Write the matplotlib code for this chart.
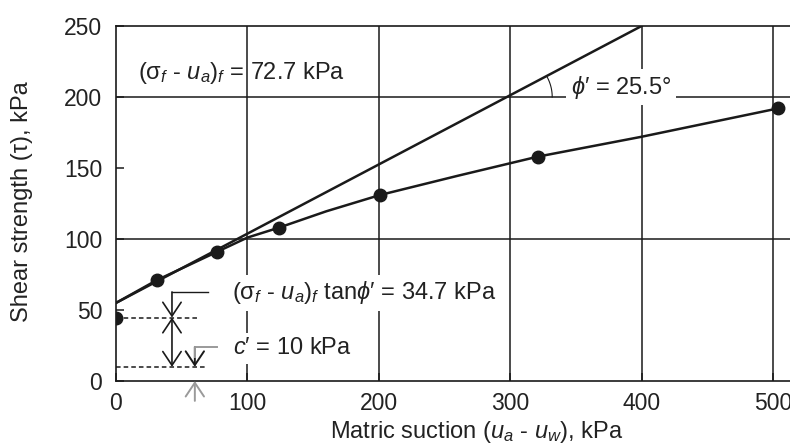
import numpy as np
import matplotlib
matplotlib.use("Agg")
import matplotlib.pyplot as plt

## data ##
suction = [0, 31, 77, 124, 201, 321, 504]
tau = [44.5, 71, 91, 108, 131, 158, 192]

# fitted curve through the measurements (hand-read)
curve_x = [0, 31, 77, 100, 124, 160, 201, 260, 321, 400, 504]
curve_y = [55, 71, 91, 101, 108, 119.5, 131, 144.5, 158, 172, 192]

# straight envelope, slope phi'
line_x = [0, 400]
line_y = [55, 250]

c_prime = 10
tan_term = 34.7

xticks = [0, 100, 200, 300, 400, 500]
yticks = [0, 50, 100, 150, 200, 250]
xgrid = [100, 200, 300, 400, 500]
ygrid = [100, 200]

## style ##
plt.rcParams['font.family'] = ['Liberation Sans', 'DejaVu Sans']
plt.rcParams['mathtext.fontset'] = 'custom'
plt.rcParams['mathtext.rm'] = 'Liberation Sans'
plt.rcParams['mathtext.it'] = 'Liberation Sans:italic'
plt.rcParams['mathtext.sf'] = 'Liberation Sans'
ink = '#1a1a1a'
txt = '#222222'

W, H = 790, 445
fig = plt.figure(figsize=(W / 100, H / 100), dpi=100)
ax = fig.add_axes([116 / W, 1 - 381 / H, 674 / W, 355 / H])
xmax = 674 / 1.314
ax.set_xlim(0, xmax)
ax.set_ylim(0, 250)

for s in ['left', 'bottom', 'top']:
    ax.spines[s].set_color(ink)
    ax.spines[s].set_linewidth(1.2)
ax.spines['right'].set_visible(False)

# grid
for gx in xgrid:
    ax.axvline(gx, color=ink, lw=1.1, zorder=1)
for gy in ygrid:
    ax.axhline(gy, color=ink, lw=1.1, zorder=1)

ax.set_xticks(xticks)
ax.set_yticks(yticks)
ax.tick_params(direction='in', length=6, width=1.1, color=ink, labelsize=16.5,
               labelcolor=txt)
ax.tick_params(axis='y', pad=10)
ax.tick_params(axis='x', pad=8)

# envelope + curve + points
ax.plot(line_x, line_y, color=ink, lw=1.8, zorder=3)
ax.plot(curve_x, curve_y, color=ink, lw=1.8, zorder=3)
ax.plot(suction, tau, 'o', color=ink, ms=9, zorder=4)

# angle arc at (300, 200)
sx = 674 / xmax
sy = 355 / 250
ang = np.arctan((line_y[1] - line_y[0]) / (line_x[1] - line_x[0]) * sy / sx)
t = np.linspace(0, ang, 40)
r = 42
ax.plot(300 + r / sx * np.cos(t), 200 + r / sy * np.sin(t), color=ink, lw=0.8, zorder=3)

fs = 17
box = dict(boxstyle='square,pad=0.2', fc='white', ec='none')
ax.text(16.7, 217, r'(σ$_{f}$ - $u_{a}$)$_{f}$ = 72.7 kPa', fontsize=fs, color=txt,
        ha='left', va='center', zorder=5)
ax.text(346, 207, r'$\phi$′ = 25.5°', fontsize=fs, color=txt,
        ha='left', va='center', bbox=box, zorder=5)
ax.text(88, 62, r'(σ$_{f}$ - $u_{a}$)$_{f}$ tan$\phi$′ = 34.7 kPa', fontsize=fs,
        color=txt, ha='left', va='center', bbox=box, zorder=5)
ax.text(89, 23, r'$c$′ = 10 kPa', fontsize=fs, color=txt,
        ha='left', va='center', bbox=box, zorder=5)

# dimension lines
top = c_prime + tan_term
ax.plot([0, 62], [top, top], ls=(0, (3, 2)), color=ink, lw=1.1, zorder=3)
ax.plot([0, 69], [c_prime, c_prime], ls=(0, (3, 2)), color=ink, lw=1.1, zorder=3)

ax.plot([70, 42.6], [62.7, 62.7], color=ink, lw=1.0, zorder=3)
head = ',head_length=0.45,head_width=0.3'
arw = dict(arrowstyle='->' + head, color=ink, lw=1.2,
           shrinkA=0, shrinkB=0, mutation_scale=22)
ax.annotate('', xy=(42.6, top), xytext=(42.6, 62.7), arrowprops=arw)
ax.annotate('', xy=(42.6, c_prime), xytext=(42.6, top),
            arrowprops=dict(arw, arrowstyle='<->' + head))

grey = '#9a9a9a'
ax.plot([77, 60], [24, 24], color=grey, lw=1.4, zorder=3)
garw = dict(arw, color=grey, lw=1.4)
ax.annotate('', xy=(60, c_prime), xytext=(60, 24), arrowprops=dict(garw, color=ink))
ax.plot([60, 60], [24, 17], color=grey, lw=1.4, zorder=3)
ax.annotate('', xy=(60, 0), xytext=(60, -14), arrowprops=garw, annotation_clip=False)

# axis labels
fig.text(477 / W, 1 - 432 / H, r'Matric suction ($u_{a}$ - $u_{w}$), kPa', fontsize=fs,
         color=txt, ha='center', va='center')
fig.text(22 / W, 1 - 202 / H, r'Shear strength (τ), kPa', fontsize=fs,
         color=txt, ha='center', va='center', rotation=90)

fig.savefig('out.png', dpi=100)
